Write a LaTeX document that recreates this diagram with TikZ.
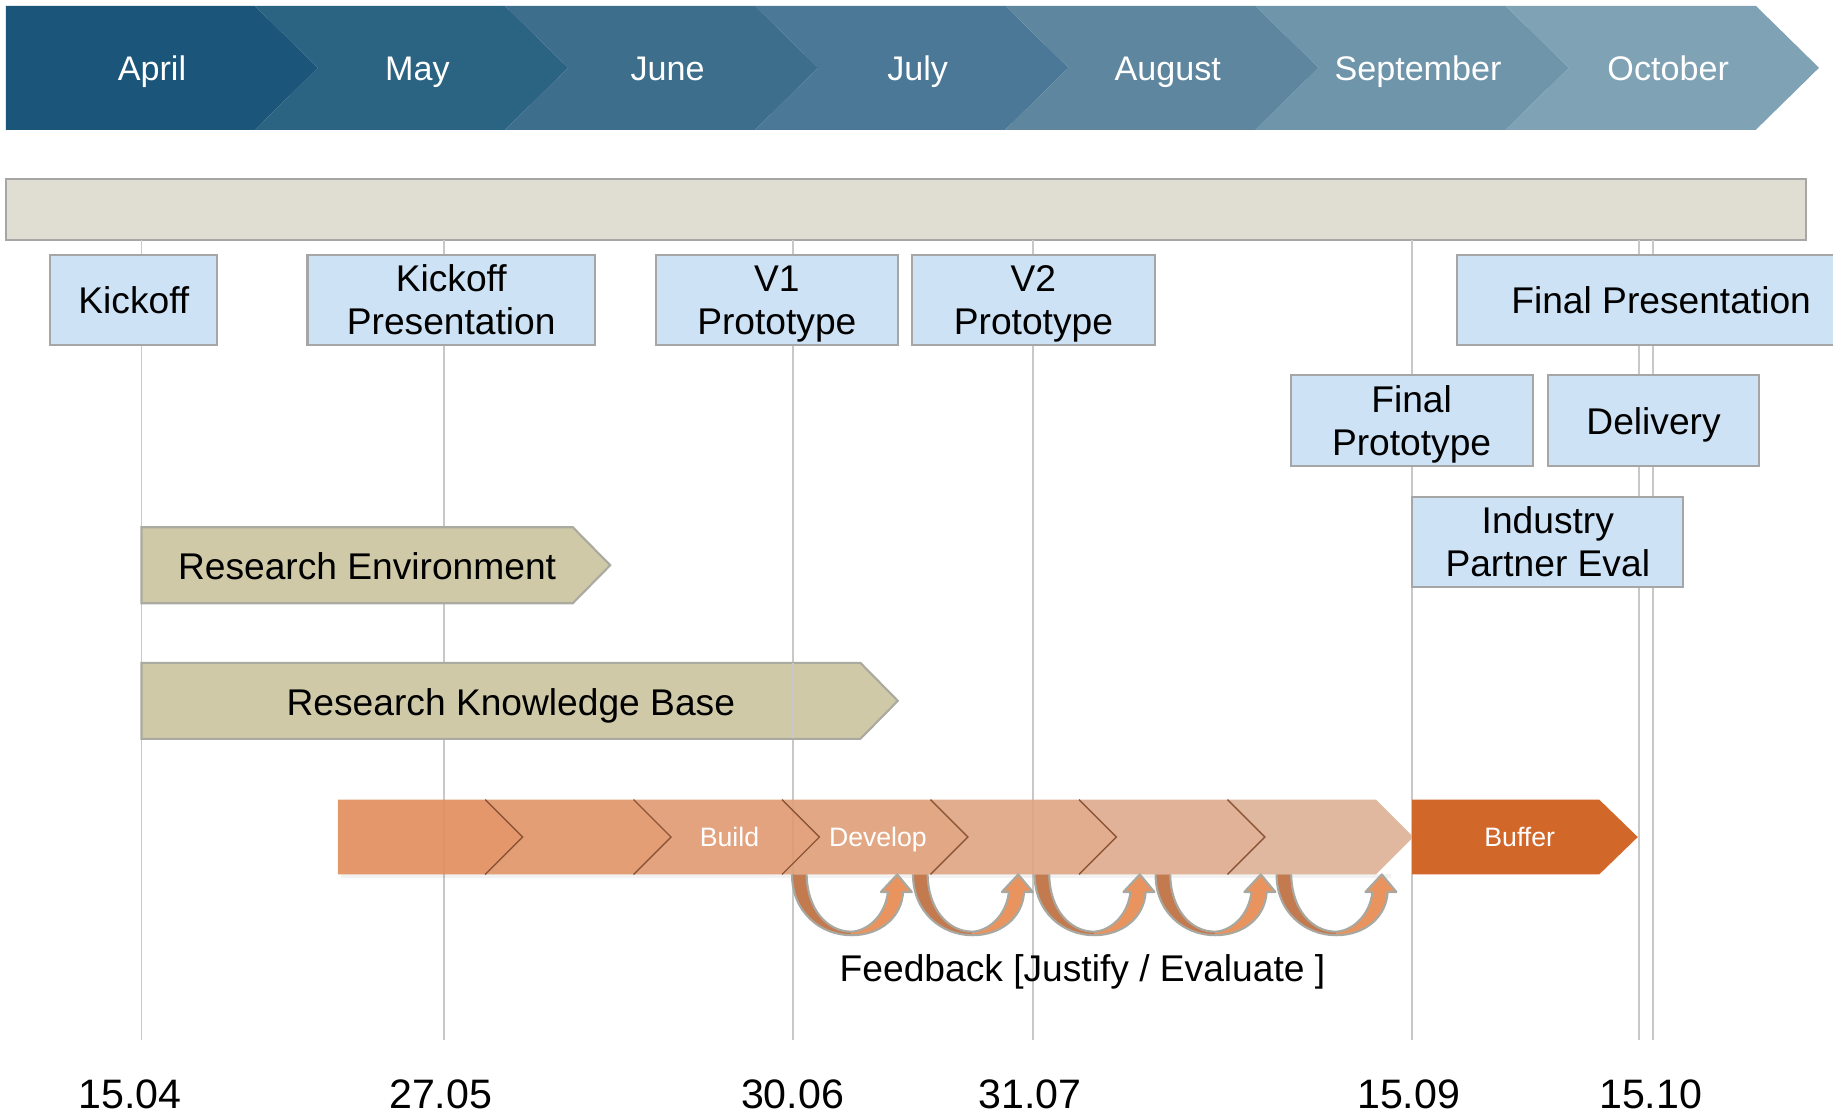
\documentclass[tikz,border=0pt]{standalone}
\usepackage{fontspec}
\setmainfont{Liberation Sans}
\definecolor{m1}{RGB}{27,85,121}
\definecolor{m2}{RGB}{43,99,130}
\definecolor{m3}{RGB}{61,111,140}
\definecolor{m4}{RGB}{74,120,150}
\definecolor{m5}{RGB}{94,135,159}
\definecolor{m6}{RGB}{111,149,170}
\definecolor{m7}{RGB}{127,162,181}
\definecolor{barfill}{RGB}{224,222,210}
\definecolor{boxline}{RGB}{166,166,166}
\definecolor{boxblue}{RGB}{205,226,244}
\definecolor{vline}{RGB}{200,200,200}
\definecolor{tanfill}{RGB}{207,201,167}
\definecolor{tanline}{RGB}{170,170,160}
\definecolor{orA}{RGB}{226,142,94}
\definecolor{orB}{RGB}{221,175,149}
\definecolor{notchc}{RGB}{140,85,55}
\definecolor{bufc}{RGB}{210,103,42}
\definecolor{fbdark}{RGB}{196,122,79}
\definecolor{fblight}{RGB}{233,148,95}
\definecolor{fbline}{RGB}{168,168,160}
\begin{document}
\begin{tikzpicture}[x=0.5pt,y=-0.5pt,
  lbl/.style={font=\fontsize{15.9}{18.3}\selectfont, text=black, align=center, inner sep=0pt},
  monthlbl/.style={font=\fontsize{14.6}{17}\selectfont, text=white, inner sep=0pt, anchor=base},
  datelbl/.style={font=\fontsize{17.6}{20}\selectfont, text=black, inner sep=0pt, anchor=base},
  smalllbl/.style={font=\fontsize{11.4}{13}\selectfont, text=white, inner sep=0pt, anchor=base},
  milestone/.style={lbl, draw=boxline, fill=boxblue, line width=0.9pt, minimum height=38.5pt, text depth=0pt},
  dateline/.style={draw=vline, line width=0.8pt},
  tanchev/.style={fill=tanfill, draw=tanline, line width=0.9pt},
  notch/.style={draw=notchc, line width=0.6pt},
  fbout/.style={draw=fbline, line width=0.9pt, line join=round},
]
\useasboundingbox (0,0) rectangle (1568,953);
\clip (0,0) rectangle (1568,953);

% ---- month banner ----
\fill[m1] (5,5) -- (218,5) -- (272,58) -- (218,111) -- (5,111) -- cycle;
\foreach \i/\c in {1/m2,2/m3,3/m4,4/m5,5/m6,6/m7}{
  \pgfmathsetmacro{\B}{218+214*(\i-1)}
  \pgfmathsetmacro{\N}{\B+214}
  \fill[\c] (\B,5) -- (\N,5) -- ({\N+54},58) -- (\N,111) -- (\B,111) -- ({\B+54},58) -- cycle;
}
\node[monthlbl] (mon1) at (130,68.5) {April};
\node[monthlbl] (mon2) at (357,68.5) {May};
\node[monthlbl] (mon3) at (571,68.5) {June};
\node[monthlbl] (mon4) at (785,68.5) {July};
\node[monthlbl] (mon5) at (999,68.5) {August};
\node[monthlbl] (mon6) at (1213,68.5) {September};
\node[monthlbl] (mon7) at (1427,68.5) {October};

% ---- gray bar ----
\node[draw=boxline, fill=barfill, line width=0.9pt, minimum width=770pt, minimum height=26pt, inner sep=0pt] (bar) at (775,179) {};

% ---- date lines ----
\foreach \n/\x in {1/121,2/380,3/678,4/884,5/1208,6/1402,7/1414}{
  \coordinate (t\n) at (\x,205);
  \coordinate (b\n) at (\x,890);
  \draw[dateline] (t\n) -- (b\n);
}

% ---- tan chevrons ----
\draw[tanchev] (121,451) -- (490,451) -- (522,483.5) -- (490,516) -- (121,516) -- cycle;
\node[lbl, anchor=base] (re) at (314,495.4) {Research Environment};
\draw[tanchev] (121,567) -- (736,567) -- (768,599.5) -- (736,632) -- (121,632) -- cycle;
\node[lbl, anchor=base] (rkb) at (437,612.4) {Research Knowledge Base};
\coordinate (m3a) at (678,567.5);
\coordinate (m3b) at (678,631.5);
\draw[dateline] (m3a) -- (m3b);

% ---- orange process chevrons ----
\fill[black, opacity=0.05] (292,748) rectangle (1190,751);
\fill[orA, fill opacity=0.92] (289,684) -- (415,684) -- (447,716) -- (415,748) -- (289,748) -- cycle;
\foreach \k in {1,...,6}{
  \pgfmathsetmacro{\L}{415+127*(\k-1)}
  \pgfmathsetmacro{\R}{415+127*\k}
  \pgfmathtruncatemacro{\pct}{100-\k*100/6}
  \colorlet{orc}{orA!\pct!orB}
  \fill[orc, fill opacity=0.9] (\L,684) -- (\R,684) -- ({\R+32},716) -- (\R,748) -- (\L,748) -- ({\L+32},716) -- cycle;
  \draw[notch] (\L,684) -- ({\L+32},716) -- (\L,748);
}
\node[smalllbl] (build) at (624,724) {Build};
\node[smalllbl] (dev) at (751,724) {Develop};
\fill[bufc] (1208,684) -- (1368,684) -- (1401,716) -- (1368,748) -- (1208,748) -- cycle;
\node[smalllbl] (buf) at (1300,724) {Buffer};

% ---- feedback arrows ----
\foreach \x in {677.5,781,885,988.5,1092}{
  \begin{scope}[shift={(\x,748)}]
    \fill[fbdark] (0,0) .. controls (0,32) and (24,52) .. (51,52) -- (51,49) .. controls (30,49) and (13,30) .. (12.5,0) -- cycle;
    \fill[fblight] (51,52) .. controls (76,52) and (94,36) .. (95,15) -- (102.5,15) -- (90,0) -- (76,15) -- (82,15) .. controls (80,34) and (66,48) .. (51,49) -- cycle;
    \draw[fbout] (0,0) .. controls (0,32) and (24,52) .. (51,52) .. controls (76,52) and (94,36) .. (95,15) -- (102.5,15) -- (90,0) -- (76,15) -- (82,15) .. controls (80,34) and (66,48) .. (51,49) .. controls (30,49) and (13,30) .. (12.5,0);
  \end{scope}
}
\node[lbl, anchor=base] (fb) at (926,840) {Feedback [Justify / Evaluate ]};

% ---- milestones ----
\node[milestone, minimum width=71.5pt] (kick) at (114.5,256.5) {Kickoff};
\node[milestone, minimum width=123pt] (kpres) at (386,256.5) {Kickoff\\Presentation};
\node[milestone, minimum width=103.5pt] (v1) at (664.5,256.5) {V1\\Prototype};
\node[milestone, minimum width=104pt] (v2) at (884,256.5) {V2\\Prototype};
\node[milestone, minimum width=175pt] (fpres) at (1421,256.5) {Final Presentation};
\node[milestone, minimum width=103.5pt, minimum height=39pt] (fproto) at (1207.5,360) {Final\\Prototype};
\node[milestone, minimum width=90.5pt, minimum height=39pt] (deliv) at (1414.5,360) {Delivery};
\node[milestone, minimum width=116pt] (ipe) at (1324,463.5) {Industry\\Partner Eval};

% ---- dates ----
\node[datelbl] (d1) at (111,948.5) {15.04};
\node[datelbl] (d2) at (377,948.5) {27.05};
\node[datelbl] (d3) at (678,948.5) {30.06};
\node[datelbl] (d4) at (881,948.5) {31.07};
\node[datelbl] (d5) at (1205,948.5) {15.09};
\node[datelbl] (d6) at (1412,948.5) {15.10};
\end{tikzpicture}
\end{document}
